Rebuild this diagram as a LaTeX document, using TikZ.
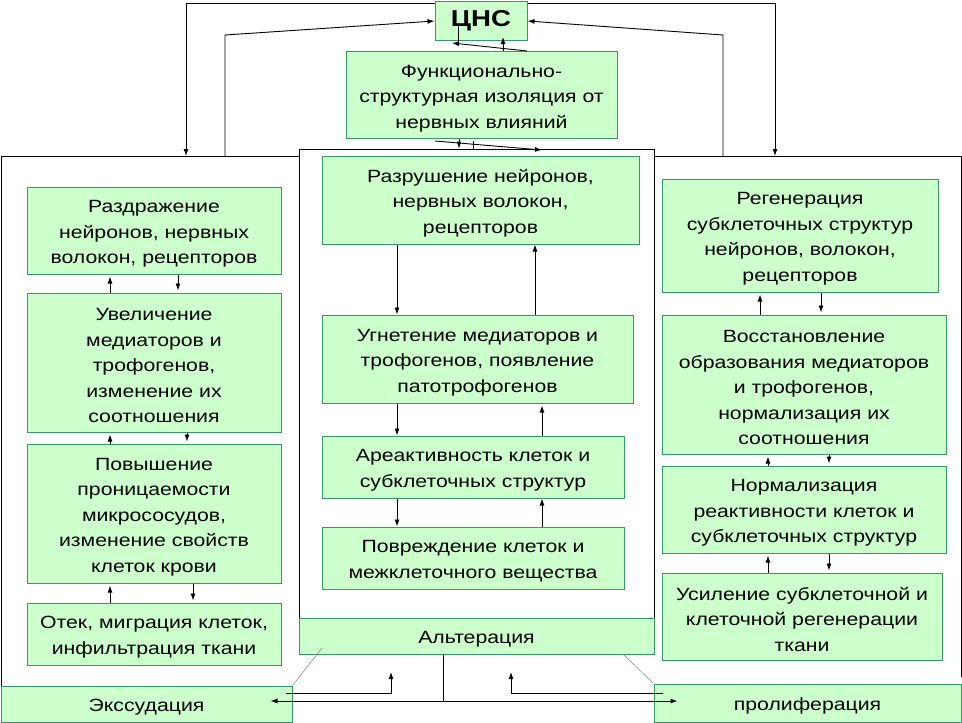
\documentclass[tikz,border=0pt]{standalone}
\usepackage{fontspec}
\setmainfont{Liberation Sans}[FakeStretch=1.2]
\usetikzlibrary{arrows.meta}
\definecolor{gfill}{RGB}{204,255,204}
\definecolor{gline}{RGB}{51,153,102}
\newcommand\sr{\rule{0pt}{19pt}}
\begin{document}
\begin{tikzpicture}[x=1pt,y=-1pt,
  gbox/.style={draw=gline, fill=gfill, line width=1pt, inner sep=0pt, align=center,
    font=\fontsize{17.7}{25.5}\selectfont},
  arr/.style={-{Latex[length=7pt,width=5pt]}, line width=0.9pt},
  arrs/.style={arr, shorten >=2pt},
  ln/.style={line width=0.9pt},
  thinln/.style={line width=0.5pt, draw=gray}]
\useasboundingbox (0,0) rectangle (962,723);

% outer frames
\draw[ln] (1,687) -- (1,156) -- (299,156);
\draw[ln] (654,156) -- (961,156) -- (961,677);
\node[draw, fill=white, line width=0.9pt, inner sep=0pt, minimum width=355pt, minimum height=505pt] (cbox) at (476.5,401.5) {};

% top
\node[gbox, minimum width=92pt, minimum height=39pt, font=\fontsize{23}{26}\selectfont\bfseries] (cns) at (481,20.5) {ЦНС};
\node[gbox, minimum width=271pt, minimum height=87pt] (func) at (481.5,95) {\sr Функционально-\\структурная изоляция от\\нервных влияний};

% left column
\node[gbox, minimum width=254pt, minimum height=87pt] (razd) at (154,230.5) {\sr Раздражение\\нейронов, нервных\\волокон, рецепторов};
\node[gbox, minimum width=254pt, minimum height=139pt] (uvel) at (154,362.5) {\sr Увеличение\\медиаторов и\\трофогенов,\\изменение их\\соотношения};
\node[gbox, minimum width=254pt, minimum height=139pt] (povysh) at (154,513.5) {\sr Повышение\\проницаемости\\микрососудов,\\изменение свойств\\клеток крови};
\node[gbox, minimum width=254pt, minimum height=62pt] (otek) at (154,634) {\sr Отек, миграция клеток,\\инфильтрация ткани};

% center column
\node[gbox, minimum width=317pt, minimum height=88pt] (razr) at (480.5,200) {\sr Разрушение нейронов,\\нервных волокон,\\рецепторов};
\node[gbox, minimum width=311pt, minimum height=88pt] (ugnet) at (477.5,359) {\sr Угнетение медиаторов и\\трофогенов, появление\\патотрофогенов};
\node[gbox, minimum width=302pt, minimum height=62pt] (areakt) at (473,467) {\sr Ареактивность клеток и\\субклеточных структур};
\node[gbox, minimum width=302pt, minimum height=62pt] (povr) at (473,558) {\sr Повреждение клеток и\\межклеточного вещества};
\node[gbox, minimum width=355pt, minimum height=36pt] (alt) at (476.5,636) {\sr Альтерация};

% right column
\node[gbox, minimum width=276pt, minimum height=113pt] (regen) at (800,235.5) {\sr Регенерация\\субклеточных структур\\нейронов, волокон,\\рецепторов};
\node[gbox, minimum width=284pt, minimum height=139pt] (vosst) at (804,384.5) {\sr Восстановление\\образования медиаторов\\и трофогенов,\\нормализация их\\соотношения};
\node[gbox, minimum width=284pt, minimum height=87pt] (norm) at (804,509.5) {\sr Нормализация\\реактивности клеток и\\субклеточных структур};
\node[gbox, minimum width=280pt, minimum height=87pt] (usil) at (802,616.5) {\sr Усиление субклеточной и\\клеточной регенерации\\ткани};

% bottom
\node[gbox, minimum width=291pt, minimum height=36pt] (exs) at (146.5,704) {\sr Экссудация};
\node[gbox, minimum width=307pt, minimum height=38pt] (prolif) at (807.5,703) {\sr пролиферация};

% column x positions
\coordinate (xl1) at (110,0);
\coordinate (xl2) at (178,0);
\coordinate (xl3) at (187,0);
\coordinate (xl4) at (193,0);
\coordinate (xc1) at (397,0);
\coordinate (xc2) at (535,0);
\coordinate (xc3) at (542,0);
\coordinate (xr1) at (760,0);
\coordinate (xr2) at (821,0);
\coordinate (xr3) at (768,0);
\coordinate (xr4) at (829,0);

% left column arrows
\draw[arrs] (uvel.north -| xl1) -- (razd.south -| xl1);
\draw[arrs] (razd.south -| xl2) -- (uvel.north -| xl2);
\draw[arrs] (povysh.north -| xl1) -- (uvel.south -| xl1);
\draw[arrs] (uvel.south -| xl3) -- (povysh.north -| xl3);
\draw[arrs] (otek.north -| xl1) -- (povysh.south -| xl1);
\draw[arrs] (povysh.south -| xl4) -- (otek.north -| xl4);

% center column arrows
\draw[arr] (razr.south -| xc1) -- (ugnet.north -| xc1);
\draw[arr] (ugnet.north -| xc2) -- (razr.south -| xc2);
\draw[arr] (ugnet.south -| xc1) -- (areakt.north -| xc1);
\draw[arrs] (areakt.north -| xc3) -- (ugnet.south -| xc3);
\draw[arr] (areakt.south -| xc1) -- (povr.north -| xc1);
\draw[arr] (povr.north -| xc3) -- (areakt.south -| xc3);

% right column arrows
\draw[arrs] (vosst.north -| xr1) -- (regen.south -| xr1);
\draw[arrs] (regen.south -| xr2) -- (vosst.north -| xr2);
\draw[arrs] (norm.north -| xr3) -- (vosst.south -| xr3);
\draw[arrs] (vosst.south -| xr4) -- (norm.north -| xr4);
\draw[arrs] (usil.north -| xr3) -- (norm.south -| xr3);
\draw[arrs] (norm.south -| xr4) -- (usil.north -| xr4);

% top connectors
\coordinate (L1) at (186,156);
\coordinate (L2) at (225,156);
\coordinate (R1) at (775,156);
\coordinate (R2) at (723,156);
\draw[arr] (cns.west |- 0,3) -| (L1);
\draw[arr] (cns.east |- 0,3) -| (R1);
\draw[arr] (L2) -- (225,35) -- (cns.west |- 0,21);
\draw[arr] (R2) -- (723,35) -- (cns.east |- 0,21);
\draw[ln] (458,25) -- (458,43);
\draw[arr] (func.north -| 527,0) -- (452,43);
\draw[arr] (func.north -| 503,0) -- (503,37);
\draw[arr] (func.south -| 459,0) -- (cbox.north -| 459,0);
\draw[arr] (435,141) -- (542,150);
\draw[ln] (473,141) -- (473,149);

% bottom connectors
\coordinate (A) at (443,701);
\draw[ln] (alt.south -| A) -- (A);
\draw[arr] (A) -- ([xshift=-22pt]exs.east |- A);
\draw[arr] (A) -- ([xshift=24pt]prolif.west |- A);
\draw[arr] ([xshift=-7pt]exs.east |- 0,693) -| (391,672);
\draw[arr] ([xshift=9pt]prolif.west |- 0,693) -| (511,672);
\draw[thinln] (322,648) -- (exs.north east);
\draw[thinln] (624,655) -- (prolif.north west);
\end{tikzpicture}
\end{document}
